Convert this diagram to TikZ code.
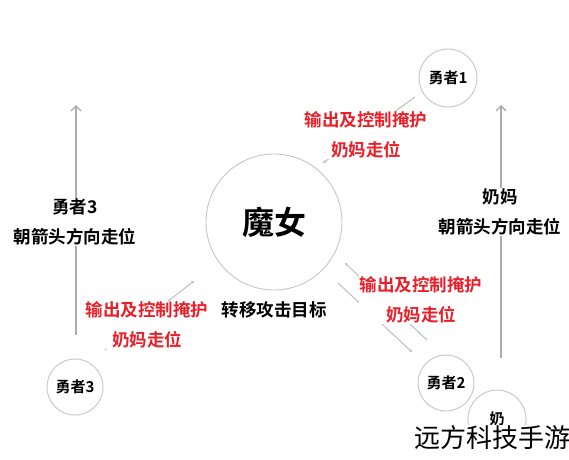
\documentclass[tikz,border=0pt]{standalone}
\usepackage{fontspec}
\setmainfont{Noto Sans CJK SC}[BoldFont={Noto Sans CJK SC Bold}]
\usetikzlibrary{arrows.meta}
\definecolor{hint}{HTML}{E8202A}

\begin{document}
\begin{tikzpicture}[x=1pt,y=-1pt,
    role/.style={circle, draw=gray!45, line width=0.9pt, fill=white, inner sep=0pt, minimum size=56pt, font=\bfseries\fontsize{15}{15}\selectfont},
    way/.style={draw=gray!65, line width=1.3pt, -{Straight Barb[length=5pt,width=10pt]}},
    tip/.style={draw=gray!55, line width=0.9pt, -{Stealth[length=3pt,width=3pt]}},
    say/.style={fill=white, inner sep=1pt, align=center, font=\bfseries\fontsize{17.5}{30}\selectfont},
    cover/.style={say, text=hint}]
    \useasboundingbox[fill=white] (0,0) rectangle (569,459);

    \coordinate (l0) at (76,335);  \coordinate (l1) at (76,105);
    \coordinate (r0) at (501,358); \coordinate (r1) at (501,105);
    \coordinate (p1) at (415,97);  \coordinate (q1) at (323,163);
    \coordinate (p3) at (105,350); \coordinate (q3) at (194,281);
    \coordinate (p2) at (427,340); \coordinate (q2) at (345,263);
    \coordinate (s2) at (338,283); \coordinate (t2) at (412,352);
    \draw[way] (l0) -- (l1);
    \draw[way] (r0) -- (r1);
    \draw[tip] (p1) -- (q1);
    \draw[tip] (p3) -- (q3);
    \draw[tip] (p2) -- (q2);
    \draw[tip] (s2) -- (t2);

    \node[role, minimum size=136pt, font=\bfseries\fontsize{32}{32}\selectfont] (mw) at (274,222) {魔女};
    \node[say, below=10pt] at (mw.south) (goal) {转移攻击目标};
    \node[role, minimum size=58pt] (h1) at (448,78) {勇者1};
    \node[role] (h2) at (446,383) {勇者2};
    \node[role] (h3) at (75,387) {勇者3};
    \node[role, minimum size=58pt] (nm) at (497,419) {奶};

    \node[say] (g3) at (75,222) {勇者3\\朝箭头方向走位};
    \node[say] (gn) at (500,212) {奶妈\\朝箭头方向走位};
    \node[cover] (c1) at (366,135) {输出及控制掩护\\奶妈走位};
    \node[cover] (c3) at (147,325) {输出及控制掩护\\奶妈走位};
    \node[cover] (c2) at (421,300) {输出及控制掩护\\奶妈走位};

    \node[fill=white, inner sep=1pt, font=\fontsize{26}{26}\selectfont] (wm) at (492,438) {远方科技手游};
\end{tikzpicture}
\end{document}
